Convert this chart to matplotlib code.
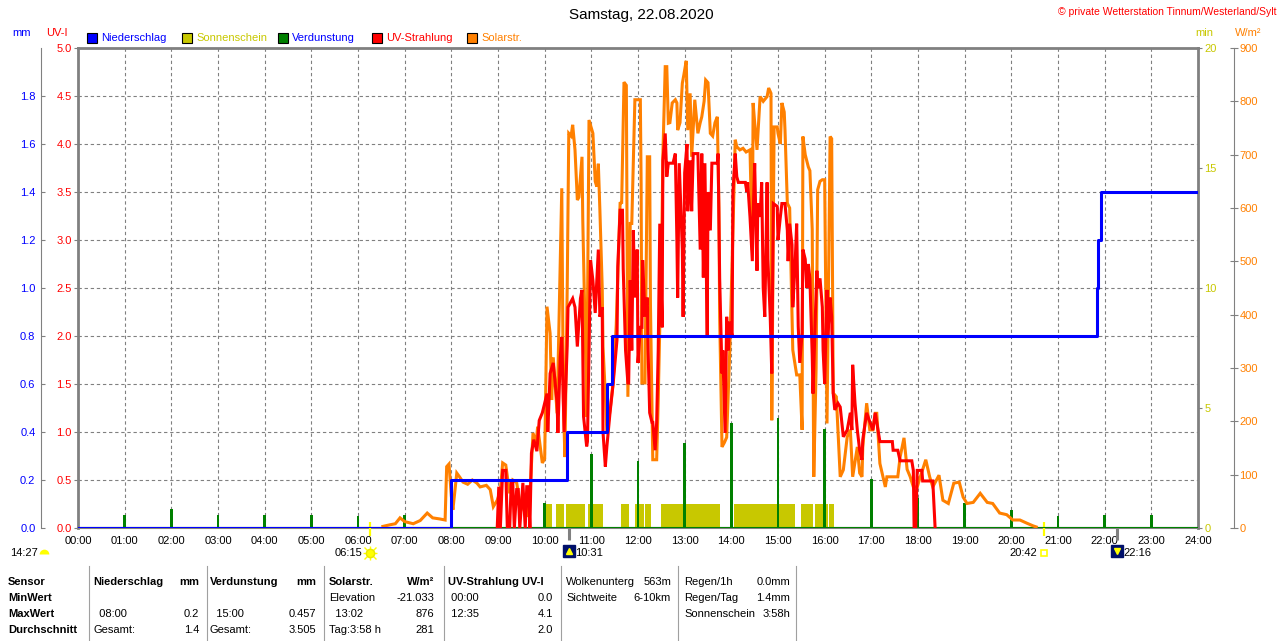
import matplotlib
matplotlib.use("Agg")
import matplotlib.pyplot as plt
import matplotlib.transforms as mtrans
from matplotlib.patches import Rectangle
from matplotlib.lines import Line2D
import numpy as np

plt.rcParams['font.family'] = ['Liberation Sans', 'DejaVu Sans']

# ---------------- data ----------------
title = "Samstag, 22.08.2020"
copyright_txt = "\u00a9 private Wetterstation Tinnum/Westerland/Sylt"

hour_labels = ["%02d:00" % h for h in range(25)]
uv_ticks = [0.0, 0.5, 1.0, 1.5, 2.0, 2.5, 3.0, 3.5, 4.0, 4.5, 5.0]
mm_ticks = [0.0, 0.2, 0.4, 0.6, 0.8, 1.0, 1.2, 1.4, 1.6, 1.8]
min_ticks = [0, 5, 10, 15, 20]
wm2_ticks = [0, 100, 200, 300, 400, 500, 600, 700, 800, 900]

legend_labels = ["Niederschlag", "Sonnenschein", "Verdunstung", "UV-Strahlung", "Solarstr."]
legend_colors = ["#0000FF", "#C8C800", "#008000", "#FF0000", "#FF8000"]
legend_text_colors = ["#0000FF", "#C8C800", "#0000FF", "#FF0000", "#FF8000"]

# Solar radiation (minute of day, W/m2)
solar_min = [392, 401, 408, 414, 420, 431, 440, 449, 456, 465, 472, 474, 477, 480, 482, 487, 491, 495,
             501, 507, 513, 517, 525, 530, 534, 539, 543, 546, 550, 555, 559, 564, 568, 573, 577, 581,
             585, 589, 591, 597, 600, 603, 607, 609, 611, 616, 620, 622, 624, 626, 629, 631, 634, 636,
             639, 642, 644, 648, 649, 653, 654, 657, 660, 662, 665, 667, 669, 671, 674, 675, 678, 680,
             684, 688, 692, 697, 699, 702, 705, 707, 710, 712, 716, 719, 723, 724, 725, 729, 732, 735,
             736, 739, 744, 746, 751, 752, 755, 757, 759, 761, 764, 768, 770, 771, 774, 777, 779, 782,
             784, 787, 789, 793, 797, 800, 802, 805, 807, 810, 813, 816, 819, 822, 824, 825, 828, 831,
             834, 838, 842, 845, 847, 851, 855, 859, 864, 867, 868, 870, 873, 877, 881, 886, 888, 891,
             892, 895, 899, 900, 903, 905, 908, 909, 912, 915, 919, 924, 928, 931, 932, 935, 939, 941,
             944, 946, 949, 951, 954, 957, 960, 963, 967, 969, 971, 975, 980, 984, 989, 993, 996, 1002,
             1005, 1008, 1009, 1014, 1018, 1022, 1025, 1027, 1031, 1038, 1040, 1047, 1054, 1057, 1062,
             1066, 1070, 1074, 1079, 1083, 1090, 1095, 1099, 1107, 1112, 1119, 1126, 1133, 1138, 1143,
             1151, 1160, 1169, 1176, 1185, 1194, 1202, 1211, 1220, 1228, 1232]
solar_wm2 = [3, 6, 8, 19, 12, 8, 14, 28, 19, 17, 15, 115, 120, 60, 34, 103, 95, 86,
             82, 90, 84, 77, 80, 72, 40, 52, 70, 122, 118, 65, 90, 85, 50, 35, 21, 60,
             178, 160, 190, 122, 130, 415, 365, 240, 320, 215, 490, 637, 240, 133, 452, 740, 735, 756,
             709, 615, 620, 696, 577, 300, 208, 765, 750, 740, 650, 640, 683, 596, 450, 340, 250, 178,
             220, 272, 380, 609, 610, 836, 830, 246, 571, 571, 803, 803, 803, 647, 272, 272, 696, 696,
             420, 128, 128, 240, 584, 700, 865, 865, 759, 760, 797, 803, 797, 746, 760, 834, 850, 876,
             746, 815, 696, 803, 740, 760, 771, 800, 840, 835, 740, 735, 760, 771, 600, 396, 152, 160,
             170, 334, 553, 728, 715, 709, 712, 705, 709, 521, 797, 760, 709, 809, 800, 809, 825, 815,
             202, 752, 752, 740, 720, 797, 780, 746, 609, 600, 334, 287, 287, 184, 734, 700, 677, 670,
             560, 96, 300, 634, 650, 653, 653, 196, 734, 730, 253, 246, 96, 109, 171, 184, 96, 152,
             103, 96, 152, 234, 184, 184, 215, 215, 121, 77, 96, 96, 96, 133, 169,
             110, 96, 77, 77, 96, 128, 96, 77, 99, 52, 46, 84, 86, 58, 46,
             48, 65, 48, 46, 28, 25, 15, 15, 9, 4, 2]

# UV index (minute of day, UV-I)
uv_min = [539, 541, 543, 546, 550, 552, 555, 557, 559, 561, 564, 566, 568, 572, 575, 577, 579, 581,
          583, 586, 590, 593, 597, 603, 604, 607, 611, 616, 617, 620, 622, 625, 629, 630, 636, 639,
          642, 646, 648, 650, 654, 655, 657, 659, 662, 665, 667, 669, 671, 674, 675, 678, 680, 684,
          688, 693, 694, 697, 700, 701, 704, 707, 708, 710, 712, 714, 716, 719, 720, 723, 725, 726,
          729, 732, 733, 735, 738, 739, 742, 744, 746, 748, 751, 752, 755, 757, 759, 765, 768, 770,
          771, 773, 777, 778, 780, 783, 784, 787, 789, 791, 797, 800, 802, 804, 806, 809, 810, 813,
          815, 822, 823, 825, 828, 829, 832, 834, 836, 838, 841, 842, 845, 847, 849, 858, 860, 861,
          864, 867, 868, 870, 873, 874, 877, 879, 881, 883, 886, 887, 890, 892, 894, 899, 900, 903,
          905, 909, 912, 913, 915, 918, 919, 922, 924, 926, 928, 931, 932, 935, 937, 939, 941, 944,
          945, 948, 950, 951, 954, 957, 958, 960, 963, 964, 967, 969, 971, 973, 977, 980, 982, 984,
          989, 993, 995, 996, 999, 1002, 1005, 1008, 1009, 1014, 1017, 1022, 1025, 1027, 1031, 1047,
          1048, 1054, 1057, 1072, 1074, 1075, 1077, 1079, 1085, 1086, 1099, 1102]
uv_index = [0.0, 0.43, 0.0, 0.6, 0.6, 0.0, 0.0, 0.47, 0.47, 0.0, 0.4, 0.4, 0.0, 0.47, 0.0, 0.43, 0.43, 0.0,
            0.78, 0.92, 0.8, 1.12, 1.2, 1.4, 1.0, 1.61, 1.72, 1.3, 0.99, 1.78, 1.99, 1.0, 1.9, 2.3, 2.39, 2.3,
            1.89, 2.39, 2.48, 1.16, 0.85, 0.9, 1.86, 2.79, 2.58, 2.24, 2.58, 2.9, 2.2, 2.3, 1.0, 0.64, 0.85, 1.2,
            1.5, 1.96, 2.72, 3.31, 3.31, 2.7, 1.85, 1.51, 1.51, 2.58, 1.85, 3.1, 2.4, 2.9, 1.72, 2.09, 2.09, 2.79,
            2.2, 2.4, 1.85, 1.2, 1.1, 1.1, 0.81, 1.1, 1.85, 3.17, 2.09, 3.83, 4.11, 3.66, 3.8, 3.8, 3.9, 3.0,
            2.4, 3.8, 2.9, 2.2, 3.7, 4.0, 3.3, 3.83, 3.3, 3.9, 3.9, 2.9, 3.9, 2.61, 3.8, 1.99, 3.5, 3.1,
            3.8, 3.8, 3.9, 2.6, 1.61, 1.85, 0.99, 2.2, 1.85, 2.15, 1.99, 3.49, 3.9, 3.66, 3.6, 3.6, 3.5, 3.6,
            3.24, 2.78, 3.24, 3.8, 2.68, 3.38, 3.24, 3.6, 2.5, 2.2, 3.6, 2.8, 2.2, 1.61, 3.38, 3.35, 3.0, 3.24,
            3.38, 3.38, 3.1, 2.78, 3.17, 2.95, 2.3, 2.75, 3.17, 2.1, 1.72, 2.03, 2.9, 2.8, 2.5, 2.75, 2.6, 1.8,
            1.4, 2.2, 2.68, 2.5, 2.6, 2.3, 1.85, 1.5, 2.48, 2.0, 2.4, 2.2, 1.4, 1.23, 1.3, 1.26, 1.1, 0.95,
            1.02, 1.2, 1.02, 1.7, 1.3, 1.02, 0.81, 0.71, 0.92, 1.2, 1.13, 1.02, 1.2, 1.1, 0.9, 0.9,
            0.81, 0.81, 0.7, 0.7, 0.6, 0.0, 0.0, 0.6, 0.6, 0.49, 0.49, 0.0]

# Cumulative rain (minute of day, mm)
rain_min = [0, 480, 629, 680, 686, 1310, 1312, 1315, 1440]
rain_mm = [0.0, 0.2, 0.4, 0.6, 0.8, 1.0, 1.2, 1.4, 1.4]

# Hourly evaporation (hour, mm)
evap_hour = [1, 2, 3, 4, 5, 6, 7, 8, 9, 10, 11, 12, 13, 14, 15, 16, 17, 18, 19, 20, 21, 22, 23]
evap_mm = [0.054, 0.079, 0.054, 0.054, 0.054, 0.05, 0.054, 0.025, 0.083, 0.104, 0.308, 0.28,
           0.356, 0.437, 0.457, 0.412, 0.206, 0.126, 0.104, 0.075, 0.051, 0.054, 0.054]

# Sunshine intervals (start minute, end minute, minutes of sun)
sun_start = [601, 614, 628, 656, 698, 716, 729, 750, 843, 930, 948, 966]
sun_end = [609, 625, 652, 675, 708, 728, 737, 826, 922, 945, 964, 972]
sun_value = [1, 1, 1, 1, 1, 1, 1, 1, 1, 1, 1, 1]

# Astronomical events
day_length = "14:27"
sunrise, sunset = "06:15", "20:42"
moonrise, moonset = "10:31", "22:16"

# Summary table
tbl_sensor = ["Sensor", "MinWert", "MaxWert", "Durchschnitt"]
tbl_rain = [("Niederschlag", "mm"), ("", ""), ("  08:00", "0.2"), ("Gesamt:", "1.4")]
tbl_evap = [("Verdunstung", "mm"), ("", ""), ("  15:00", "0.457"), ("Gesamt:", "3.505")]
tbl_solar = [("Solarstr.", "W/m\u00b2"), ("Elevation", "-21.033"), ("  13:02", "876"), ("Tag:3:58 h", "281")]
tbl_uv = [("UV-Strahlung UV-I", ""), (" 00:00", "0.0"), (" 12:35", "4.1"), ("", "2.0")]
tbl_cloud = [("Wolkenunterg", "563m"), ("Sichtweite", "6-10km"), ("", ""), ("", "")]
tbl_misc = [("Regen/1h", "0.0mm"), ("Regen/Tag", "1.4mm"), ("Sonnenschein", "3:58h"), ("", "")]


def hm(s):
    h, m = s.split(":")
    return int(h) + int(m) / 60.0


# ---------------- figure ----------------
W, H = 1280, 641
GRAY = "#808080"
fig = plt.figure(figsize=(W / 100, H / 100), dpi=100)
rect = [78 / W, (H - 528) / H, 1120 / W, 480 / H]
FS = 8


def fx(x):
    return x / W


def fy(y):
    return 1 - y / H


# base axes: grid, UV labels, hour labels
ax = fig.add_axes(rect)
ax.set_xlim(0, 24)
ax.set_ylim(0, 5)
ax.set_xticks(range(25))
ax.set_xticklabels(hour_labels, fontsize=FS)
ax.tick_params(axis='x', length=0, pad=6)
ax.set_yticks(uv_ticks)
ax.set_yticklabels(["%.1f" % v for v in uv_ticks], fontsize=FS)
ax.tick_params(axis='y', direction='out', length=3, width=0.8, color=GRAY,
               labelcolor="#FF0000", pad=1.5)
ax.grid(True, color=GRAY, linestyle=(0, (3, 2.5)), linewidth=0.8)
for s in ['left', 'top', 'right']:
    ax.spines[s].set_color(GRAY)
    ax.spines[s].set_linewidth(2.0)
ax.spines['bottom'].set_color(GRAY)
ax.spines['bottom'].set_linewidth(1.5)


def overlay(ylim):
    a = fig.add_axes(rect)
    a.set_xlim(0, 24)
    a.set_ylim(*ylim)
    a.patch.set_visible(False)
    a.xaxis.set_visible(False)
    for s in a.spines.values():
        s.set_visible(False)
    a.set_yticks([])
    return a


# sunshine (min axis, right)
ax_sun = overlay((0, 20))
s_h = np.array(sun_start) / 60.0
s_w = (np.array(sun_end) - np.array(sun_start)) / 60.0
ax_sun.bar(s_h, sun_value, width=s_w, align='edge', color=legend_colors[1], linewidth=0)
ax_sun.yaxis.tick_right()
ax_sun.set_yticks(min_ticks)
ax_sun.set_yticklabels([str(v) for v in min_ticks], fontsize=FS)
ax_sun.tick_params(axis='y', direction='out', length=3, width=0.8, color=GRAY,
                   labelcolor=legend_colors[1], pad=1.5)

# evaporation (mm axis)
ax_ev = overlay((0, 2))
ax_ev.bar(evap_hour, evap_mm, width=0.06, color=legend_colors[2], linewidth=0)
ax_ev.axhline(0, color=legend_colors[2], linewidth=1.5)

# solar radiation (W/m2 axis, outer right)
ax_sol = overlay((0, 900))
ax_sol.plot(np.array(solar_min) / 60.0, solar_wm2, color=legend_colors[4], linewidth=2.2,
            solid_joinstyle='miter')
ax_sol.spines['right'].set_visible(True)
ax_sol.spines['right'].set_position(('outward', 26))
ax_sol.spines['right'].set_color(GRAY)
ax_sol.spines['right'].set_linewidth(0.8)
ax_sol.yaxis.tick_right()
ax_sol.set_yticks(wm2_ticks)
ax_sol.set_yticklabels([str(v) for v in wm2_ticks], fontsize=FS)
ax_sol.tick_params(axis='y', direction='inout', length=5.8, width=0.8, color=GRAY,
                   labelcolor=legend_colors[4], pad=1.0)

# UV radiation
ax_uv = overlay((0, 5))
ax_uv.plot(np.array(uv_min) / 60.0, uv_index, color=legend_colors[3], linewidth=2.2,
           solid_joinstyle='miter')

# rain (mm axis, outer left)
ax_rain = overlay((0, 2))
ax_rain.plot(np.array(rain_min) / 60.0, rain_mm, color=legend_colors[0], linewidth=2.2,
             drawstyle='steps-post')
ax_rain.spines['left'].set_visible(True)
ax_rain.spines['left'].set_position(('outward', 26.6))
ax_rain.spines['left'].set_color(GRAY)
ax_rain.spines['left'].set_linewidth(0.8)
ax_rain.set_yticks(mm_ticks)
ax_rain.set_yticklabels(["%.1f" % v for v in mm_ticks], fontsize=FS)
ax_rain.tick_params(axis='y', direction='in', length=3, width=0.8, color=GRAY,
                    labelcolor=legend_colors[0], pad=4)

# ---------------- texts ----------------
fig.text(fx(641), fy(15), title, ha='center', va='center', fontsize=11)
fig.text(fx(1276), fy(12), copyright_txt, ha='right', va='center', fontsize=7.5, color='#FF0000')
fig.text(fx(22), fy(33), "mm", ha='center', va='center', fontsize=FS, color='#0000FF')
fig.text(fx(57), fy(33), "UV-I", ha='center', va='center', fontsize=FS, color='#FF0000')
fig.text(fx(1204), fy(33), "min", ha='center', va='center', fontsize=FS, color=legend_colors[1])
fig.text(fx(1248), fy(33), "W/m\u00b2", ha='center', va='center', fontsize=FS, color=legend_colors[4])

# legend
leg_x = [87, 182, 278, 372, 467]
for x, lab, c, tc in zip(leg_x, legend_labels, legend_colors, legend_text_colors):
    fig.add_artist(Rectangle((fx(x), fy(43)), 10 / W, 10 / H, transform=fig.transFigure,
                             facecolor=c, edgecolor='black', linewidth=0.8))
    fig.text(fx(x + 14), fy(38), lab, ha='left', va='center', fontsize=FS, color=tc)

# astronomical marks below the axis
trans = mtrans.blended_transform_factory(ax.transData, ax.transAxes)
t_sr, t_ss, t_mr, t_ms = hm(sunrise), hm(sunset), hm(moonrise), hm(moonset)
for t in (t_sr, t_ss):
    ax.plot([t, t], [0.0125, -0.017], transform=trans, clip_on=False, color='#FFFF00', linewidth=1.6,
            solid_capstyle='butt', zorder=5)
for t in (t_mr, t_ms):
    ax.plot([t, t], [0, -0.024], transform=trans, clip_on=False, color=GRAY, linewidth=2.2,
            solid_capstyle='butt', zorder=5)
yi = -(553 - 528) / 480
# sunrise sun icon
ax.plot([t_sr], [yi], transform=trans, clip_on=False, marker='o', markersize=6,
        color='#FFFF00', markeredgecolor='#E8E800', zorder=5)
ax.plot([t_sr], [yi], transform=trans, clip_on=False, marker='+', markersize=10,
        color='#FFFF00', markeredgewidth=1, zorder=4)
ax.plot([t_sr], [yi], transform=trans, clip_on=False, marker='x', markersize=8,
        color='#FFFF00', markeredgewidth=1, zorder=4)
ax.annotate(sunrise, xy=(t_sr, yi), xycoords=trans, xytext=(-7, 0), textcoords='offset pixels',
            ha='right', va='center', fontsize=FS, annotation_clip=False)
# sunset icon
ax.plot([t_ss], [yi], transform=trans, clip_on=False, marker='s', markersize=5,
        markerfacecolor='none', markeredgecolor='#FFFF00', markeredgewidth=1.2, zorder=5)
ax.annotate(sunset, xy=(t_ss, yi), xycoords=trans, xytext=(-7, 0), textcoords='offset pixels',
            ha='right', va='center', fontsize=FS, annotation_clip=False)
# moon icons
ym = -(551 - 528) / 480
for t, lab, mk in ((t_mr, moonrise, '^'), (t_ms, moonset, 'v')):
    ax.plot([t], [ym], transform=trans, clip_on=False, marker='s', markersize=8,
            color='#00106A', zorder=5)
    ax.plot([t], [ym], transform=trans, clip_on=False, marker=mk, markersize=4,
            color='#FFFF00', zorder=6)
    ax.annotate(lab, xy=(t, yi), xycoords=trans, xytext=(6, 0), textcoords='offset pixels',
                ha='left', va='center', fontsize=FS, annotation_clip=False)
# day length
fig.text(fx(10), fy(553), day_length, ha='left', va='center', fontsize=FS)
fig.add_artist(Line2D([fx(44)], [fy(554)], marker='o', markersize=7, fillstyle='top',
                      markerfacecoloralt='none', color='#FFFF00', markeredgewidth=0,
                      transform=fig.transFigure))

# ---------------- table ----------------
rows_y = [582, 598, 614, 630]
for xs in [89, 207, 324, 444, 561, 678, 796]:
    fig.add_artist(Line2D([fx(xs), fx(xs)], [fy(566), fy(641)], color='#A0A0A0', linewidth=0.8,
                          transform=fig.transFigure))
for i, t in enumerate(tbl_sensor):
    fig.text(fx(8), fy(rows_y[i]), t, ha='left', va='center', fontsize=FS, fontweight='bold')
cols = [(tbl_rain, 93, 199), (tbl_evap, 210, 316), (tbl_solar, 329, 434), (tbl_uv, 448, 553),
        (tbl_cloud, 566, 671), (tbl_misc, 684, 790)]
for ci, (col, xl, xr) in enumerate(cols):
    for ri, (lt, rt) in enumerate(col):
        bold = (ri == 0 and ci < 4)
        fw = 'bold' if bold else 'normal'
        if lt:
            fig.text(fx(xl), fy(rows_y[ri]), lt, ha='left', va='center', fontsize=FS, fontweight=fw)
        if rt:
            fig.text(fx(xr), fy(rows_y[ri]), rt, ha='right', va='center', fontsize=FS, fontweight=fw)

fig.savefig("out.png", dpi=100)
